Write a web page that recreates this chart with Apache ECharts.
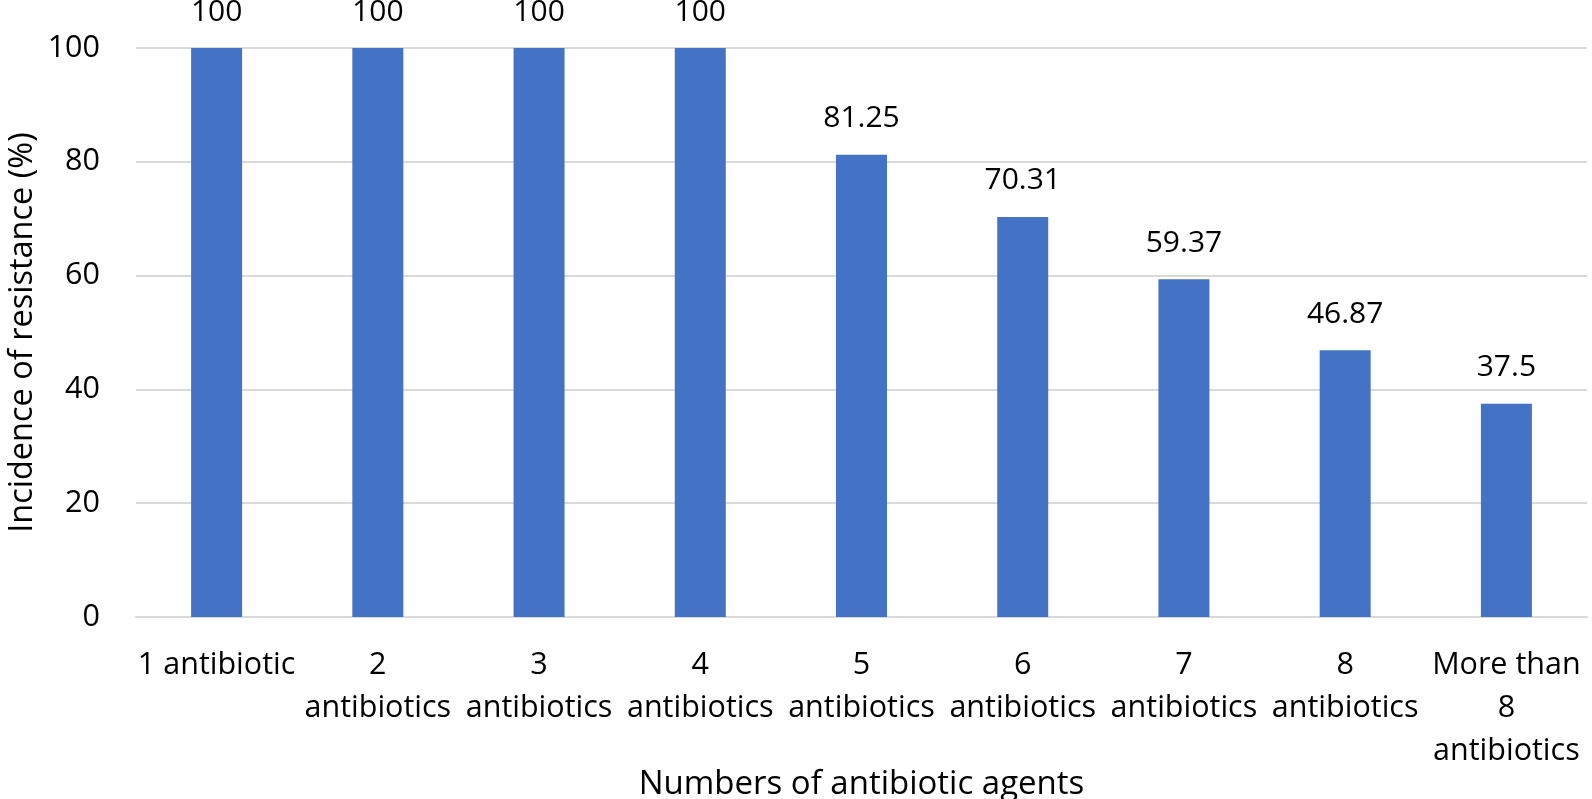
<!DOCTYPE html>
<html><head><meta charset="utf-8">
<script src="https://cdn.jsdelivr.net/npm/echarts@6/dist/echarts.min.js"></script>
<style>html,body{margin:0;padding:0;background:#fff}#c{width:1592px;height:799px}</style>
</head><body><div id="c"></div>
<script>
const categories = ["1 antibiotic","2\nantibiotics","3\nantibiotics","4\nantibiotics","5\nantibiotics","6\nantibiotics","7\nantibiotics","8\nantibiotics","More than\n8\nantibiotics"];
const values = [100,100,100,100,81.25,70.31,59.37,46.87,37.5];
const yTicks = {min:0,max:100,interval:20};
const FONT = "'Open Sans', sans-serif";
const chart = echarts.init(document.getElementById('c'));
chart.setOption({
  animation:false,
  grid:{left:136,right:5,top:48,bottom:182,outerBoundsMode:'none',containLabel:false},
  xAxis:{type:'category',data:categories,
    axisLine:{lineStyle:{color:'#d9d9d9',width:2}},axisTick:{show:false},
    axisLabel:{color:'#000',fontFamily:FONT,fontSize:30.5,lineHeight:43,margin:27,interval:0},
    name:'Numbers of antibiotic agents',nameLocation:'middle',nameGap:151,nameMoveOverlap:false,
    nameTextStyle:{color:'#000',fontFamily:FONT,fontSize:33}},
  yAxis:{type:'value',min:yTicks.min,max:yTicks.max,interval:yTicks.interval,
    axisLine:{show:false},axisTick:{show:false},
    splitLine:{lineStyle:{color:'#d9d9d9',width:2}},
    axisLabel:{color:'#000',fontFamily:FONT,fontSize:30.5,margin:36},
    name:'Incidence of resistance (%)',nameLocation:'middle',nameGap:97,nameMoveOverlap:false,
    nameTextStyle:{color:'#000',fontFamily:FONT,fontSize:32.5}},
  series:[{type:'bar',data:values,barWidth:51,
    itemStyle:{color:'#4472C4'},
    label:{show:true,position:'top',distance:21,color:'#000',fontFamily:FONT,fontSize:30}}]
});
</script></body></html>
